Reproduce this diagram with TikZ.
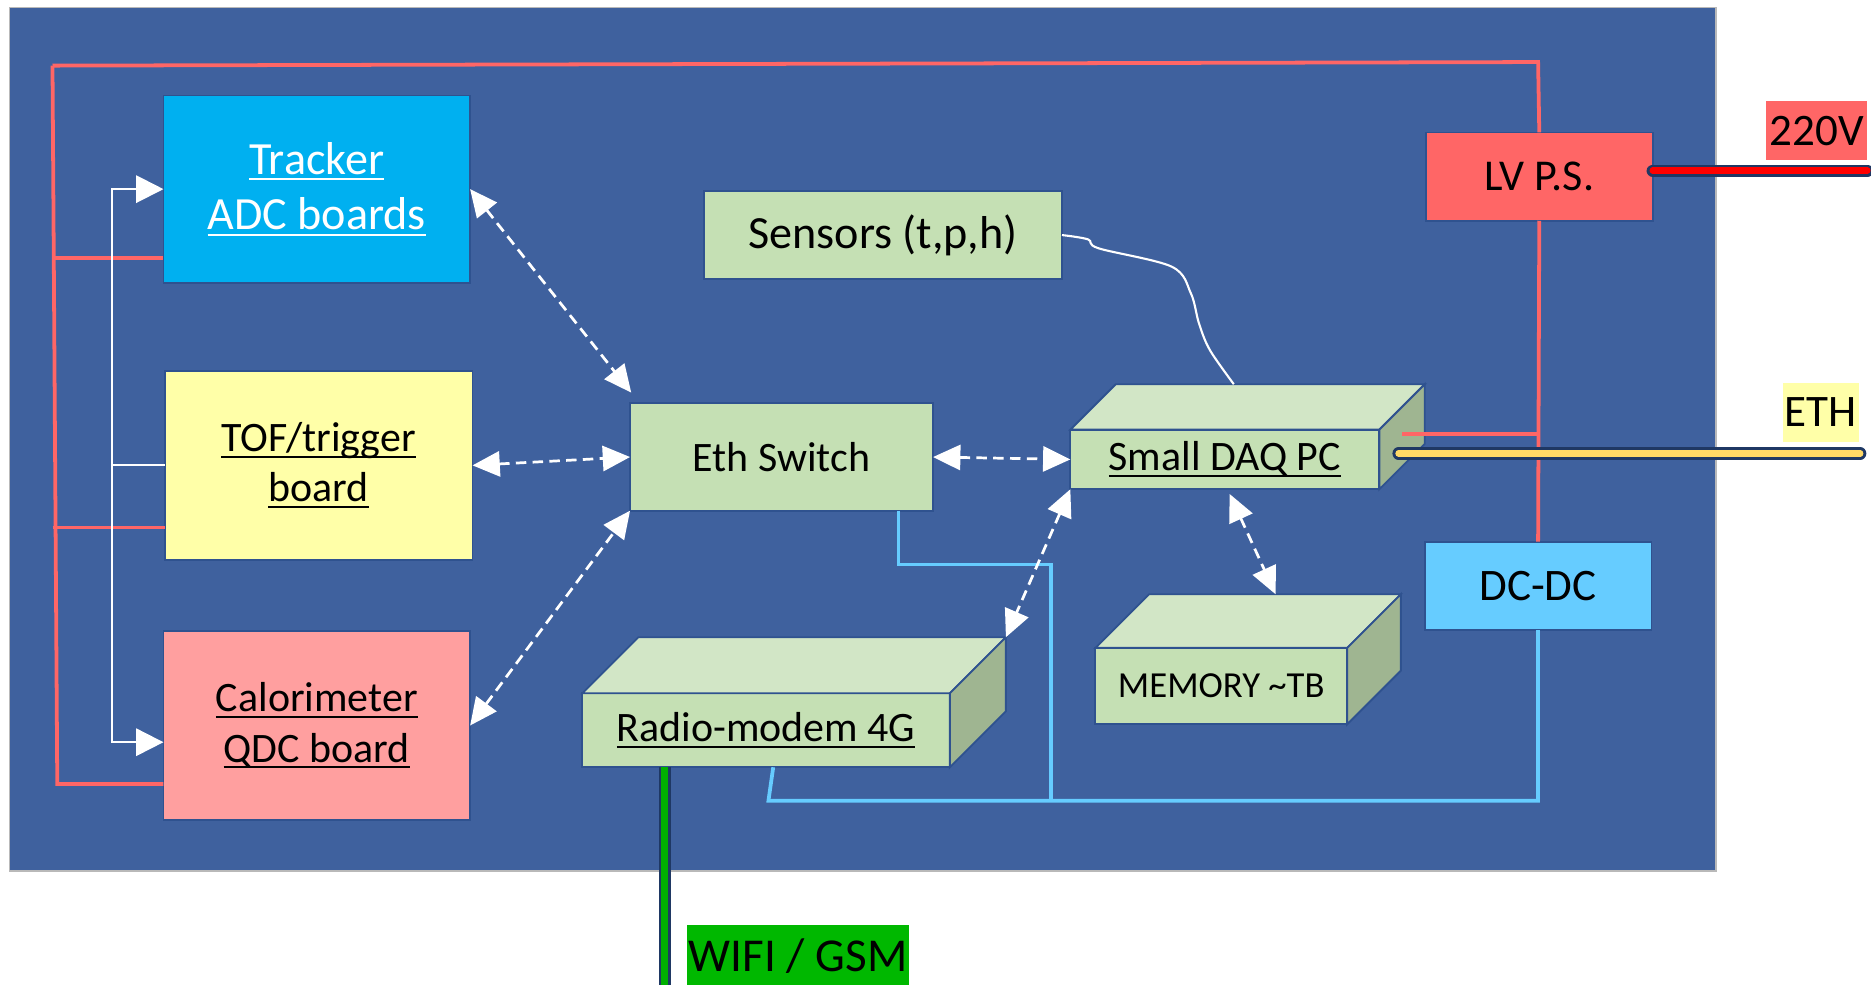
\documentclass[tikz,border=0pt]{standalone}
\usepackage{fontspec}
\setmainfont{Carlito}
\newcommand{\undl}[1]{\leavevmode\setbox0\hbox{#1}\rlap{\rule[-3pt]{\wd0}{1.1pt}}\box0}
\usetikzlibrary{arrows.meta,calc}
\definecolor{bg}{HTML}{3F619E}
\definecolor{boxline}{HTML}{2F528F}
\definecolor{trk}{HTML}{00B0F0}
\definecolor{tofc}{HTML}{FFFFA8}
\definecolor{calcol}{HTML}{FF9F9F}
\definecolor{grn}{HTML}{C5E0B4}
\definecolor{grntop}{HTML}{D2E6C6}
\definecolor{grnside}{HTML}{9FB591}
\definecolor{lvc}{HTML}{FF6666}
\definecolor{dcc}{HTML}{66CCFF}
\definecolor{redl}{HTML}{FF6666}
\definecolor{bluel}{HTML}{66CCFF}
\definecolor{navy}{HTML}{1F3864}
\definecolor{ethy}{HTML}{FFD966}
\definecolor{wgreen}{HTML}{00B800}
\definecolor{gcable}{HTML}{00B000}
\begin{document}
\begin{tikzpicture}[x=0.02cm,y=-0.02cm,
  sz/.style 2 args={minimum width=#1*0.02cm, minimum height=#2*0.02cm},
  boxst/.style={draw=boxline, line width=0.9pt, inner sep=0pt, outer sep=0pt, align=center},
  fA/.style={font=\fontsize{22}{26.6}\selectfont},
  fB/.style={font=\fontsize{20}{24}\selectfont},
  fC/.style={font=\fontsize{17.5}{21}\selectfont},
  redline/.style={draw=redl, line width=1.8pt},
  blueline/.style={draw=bluel, line width=1.8pt},
  whiteline/.style={draw=white, line width=1pt},
  dar/.style={draw=white, line width=1.3pt, dash pattern=on 5pt off 3pt,
     {Triangle[length=13pt,width=12pt]}-{Triangle[length=13pt,width=12pt]}},
  war/.style={draw=white, line width=1pt,
     {Triangle[length=13pt,width=13pt]}-{Triangle[length=13pt,width=13pt]}},
  cablest/.style={draw=navy, line width=1.4pt, line cap=round, double distance=3pt},
  lab/.style={inner sep=0pt, outer sep=0pt, font=\fontsize{21.5}{25}\selectfont}
]
\useasboundingbox (0,0) rectangle (1568,825);
% background
\draw[fill=bg, draw=gray!55, line width=0.6pt] (8,6) rectangle (1438,730);

% boxes
\node[boxst, fA, fill=trk, text=white, sz={257}{157}] (tracker) at (265.5,158.5) {\undl{Tracker}\\\undl{ADC boards}};
\node[boxst, fB, fill=tofc, sz={258}{158}] (tof) at (267,390) {\undl{TOF/trigger}\\\undl{board}};
\node[boxst, fB, fill=calcol, sz={257}{158}] (cal) at (265.5,608) {\undl{Calorimeter}\\\undl{QDC board}};
\node[boxst, fA, fill=grn, sz={300}{74}] (sensors) at (740,197) {Sensors (t,p,h)};
\node[boxst, fB, fill=grn, sz={254}{90}] (eth) at (655,383) {Eth Switch};
\node[boxst, font=\fontsize{21}{25}\selectfont, fill=lvc, sz={190}{74}] (lv) at (1290,148) {LV P.S.};
\node[boxst, font=\fontsize{21.5}{25}\selectfont, fill=dcc, sz={190}{74}] (dcdc) at (1289,491) {DC-DC};

% 3D boxes
\node[boxst, fB, fill=grn, sz={259}{50}] (daq) at (1026.5,385) {\undl{Small DAQ PC}};
\draw[draw=boxline, line width=0.9pt, fill=grntop] (daq.north west) -- ++(38,-38) -- ++(259,0) -- (daq.north east) -- cycle;
\draw[draw=boxline, line width=0.9pt, fill=grnside] (daq.north east) -- ++(38,-38) -- ++(0,50) -- (daq.south east) -- cycle;

\node[boxst, fC, fill=grn, sz={211}{64}] (mem) at (1023.5,575) {MEMORY \textasciitilde TB};
\draw[draw=boxline, line width=0.9pt, fill=grntop] (mem.north west) -- ++(45,-45) -- ++(211,0) -- (mem.north east) -- cycle;
\draw[draw=boxline, line width=0.9pt, fill=grnside] (mem.north east) -- ++(45,-45) -- ++(0,64) -- (mem.south east) -- cycle;

\node[boxst, fB, fill=grn, sz={308}{62}] (radio) at (642,612) {\undl{Radio-modem 4G}};
\draw[draw=boxline, line width=0.9pt, fill=grntop] (radio.north west) -- ++(47,-47) -- ++(308,0) -- (radio.north east) -- cycle;
\draw[draw=boxline, line width=0.9pt, fill=grnside] (radio.north east) -- ++(47,-47) -- ++(0,62) -- (radio.south east) -- cycle;

% coordinates
\coordinate (radiotr) at ($(radio.north east)+(47,-47)$);
\coordinate (memtop) at (1069,498);
\coordinate (daqtop) at (1034,322);
\coordinate (daqr) at (1175,364);
\coordinate (ethin) at (1172,380);
\coordinate (ethout) at (1559,380);
\coordinate (vout) at (1565,143);
\coordinate (wout) at (557,830);

% red power lines
\draw[redline] (44,55) -- (1289,52) -- (lv.north);
\draw[redline] (44,55) -- (48,657) -- (cal.west |- 0,657);
\draw[redline] (45,216) -- (tracker.west |- 0,216);
\draw[redline] (44,442) -- (tof.west |- 0,442);
\draw[redline] (lv.south) -- (dcdc.north);
\draw[redline] (daqr) -- (1289,364);

% white trigger lines
\draw[war] (tracker.west) -- (94,158.5) -- (94,622) -- (cal.west |- 0,622);
\draw[whiteline] (94,390) -- (tof.west);

% blue lines
\draw[blueline] (eth.south -| 753,0) -- (753,473) -- (881,473) -- (881,671);
\draw[blueline] (dcdc.south) -- (1289,671) -- (644,671) -- (radio.south -| 648,0);

% sensors cable
\draw[whiteline] plot[smooth, tension=0.55] coordinates {(sensors.east) (911.8,200.6) (920.7,208.1) (982,223.5) (998,245.8) (1004.8,271) (1013.9,293.3) (daqtop)};

% dashed data links
\draw[dar] (tracker.east) -- ($(eth.north west)+(1,-9)$);
\draw[dar] (tof.east) -- (eth.west);
\draw[dar] (cal.east) -- (eth.south west);
\draw[dar] (eth.east) -- (daq.west);
\draw[dar] (daq.south west) -- (radiotr);
\draw[dar] ($(daq.south)+(4,4)$) -- (memtop);

% external cables
\draw[cablest, double=red] (lv.east |- 0,143) -- (vout);
\draw[cablest, double=ethy] (ethin) -- (ethout);
\draw[cablest, double=gcable, line cap=butt] (radio.south -| 557,0) -- (wout);

% labels
\node[lab, fill=lvc, sz={85}{49}] (v220) at (1522.5,109.5) {220V};
\node[lab, fill=tofc, sz={64}{49}] (ethlab) at (1526,345.5) {ETH};
\node[lab, fill=wgreen, sz={186}{52}, font=\fontsize{22.5}{26}\selectfont] (wifi) at (669,801) {WIFI / GSM};
\end{tikzpicture}
\end{document}
